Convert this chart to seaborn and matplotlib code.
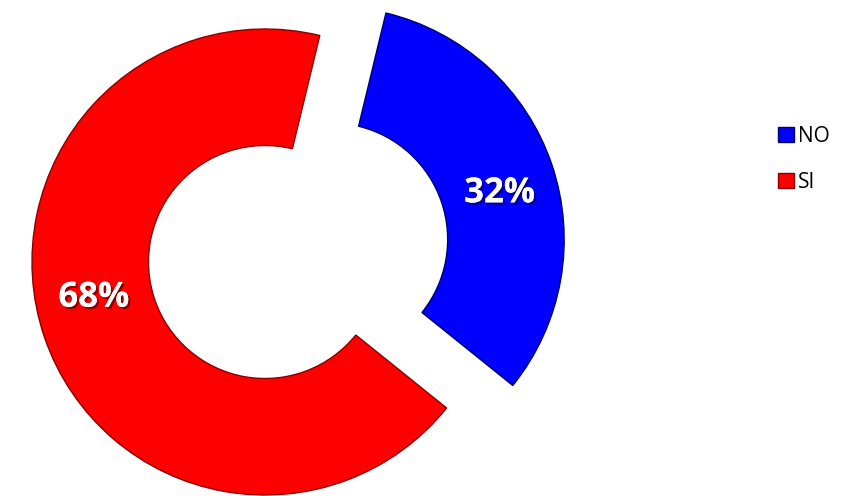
import numpy as np
import matplotlib
matplotlib.use("Agg")
import matplotlib.pyplot as plt
import matplotlib.patheffects as pe
import seaborn as sns

# ── Data ────────────────────────────────────────────────────────
categories = ["NO", "SI"]
shares     = [32, 68]
colors     = ["#0000FF", "#FF0000"]
edges      = ["#00006A", "#8A0000"]
label_turn = [-3.5, -7.0]   # degrees: nudge of the % labels along the ring

sns.set_style("white")
plt.rcParams["font.family"] = ["Open Sans", "DejaVu Sans"]

W, H = 847, 496
fig = plt.figure(figsize=(W / 100, H / 100), dpi=100)

# donut centre ~ (265, 262) px from top-left, outer radius ~233 px
cx, cy, R, L = 265, 262, 233, 1.3
side = 2 * L * R
ax = fig.add_axes([(cx - side / 2) / W, (H - cy - side / 2) / H, side / W, side / H])

wedges, _, pcts = ax.pie(
    shares, colors=colors, startangle=76.4, counterclock=False,
    explode=[0.30, 0.0], autopct="%1.0f%%", pctdistance=0.75,
    wedgeprops=dict(width=0.5, linewidth=1.0),
)
for w, ec in zip(wedges, edges):
    w.set_edgecolor(ec)

for w, t, turn in zip(wedges, pcts, label_turn):
    # rotate label about the wedge's own centre
    ox, oy = w.center
    x, y = t.get_position()
    a = np.deg2rad(turn)
    dx, dy = x - ox, y - oy
    t.set_position((ox + dx * np.cos(a) - dy * np.sin(a),
                    oy + dx * np.sin(a) + dy * np.cos(a)))
    t.set_color("white")
    t.set_fontsize(25)
    t.set_fontweight("bold")
    t.set_path_effects([
        pe.withSimplePatchShadow(offset=(1.5, -1.5), shadow_rgbFace="black", alpha=0.45),
        pe.Normal(),
    ])

ax.set_xlim(-L, L)
ax.set_ylim(-L, L)
ax.set_aspect("equal")
ax.axis("off")

leg = fig.legend(
    wedges, categories, loc="center left",
    bbox_to_anchor=(768 / W, 1 - 159 / H), frameon=False,
    fontsize=15, handlelength=0.75, handleheight=0.75,
    handletextpad=0.2, labelspacing=1.2, borderpad=0,
)
for txt in leg.get_texts():
    txt.set_color("black")

fig.savefig("out.png", dpi=100)
